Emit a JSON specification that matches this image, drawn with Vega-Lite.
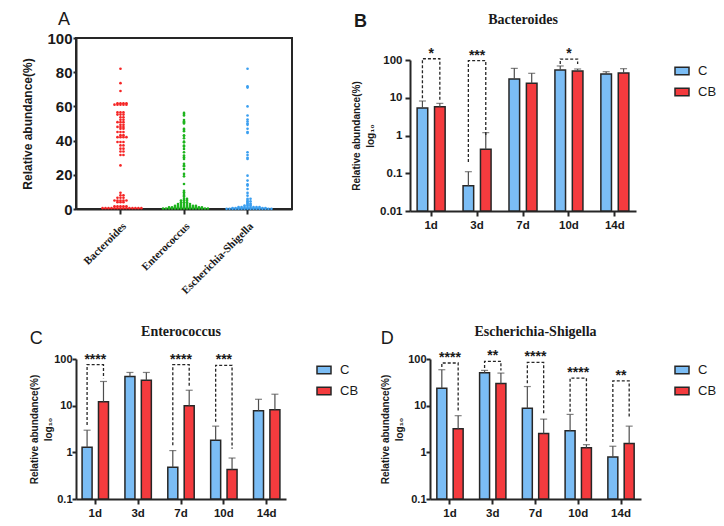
{
"$schema":"https://vega.github.io/schema/vega-lite/v6.json",
"background":"white",
"padding":{"left":20,"top":10,"right":0,"bottom":0},
"datasets":{
"scatter":[
{"g":"Bacteroides","v":82},{"g":"Bacteroides","v":73.6},{"g":"Bacteroides","v":69},
{"g":"Bacteroides","v":61.8},{"g":"Bacteroides","v":61.8},{"g":"Bacteroides","v":61.8},{"g":"Bacteroides","v":61.8},
{"g":"Bacteroides","v":61},{"g":"Bacteroides","v":61},{"g":"Bacteroides","v":61},{"g":"Bacteroides","v":61},{"g":"Bacteroides","v":61},
{"g":"Bacteroides","v":56.5},{"g":"Bacteroides","v":56.5},{"g":"Bacteroides","v":56.5},
{"g":"Bacteroides","v":55.2},{"g":"Bacteroides","v":55.2},{"g":"Bacteroides","v":55.2},
{"g":"Bacteroides","v":53.6},{"g":"Bacteroides","v":53.6},{"g":"Bacteroides","v":52.2},{"g":"Bacteroides","v":52.2},
{"g":"Bacteroides","v":50.8},{"g":"Bacteroides","v":50.8},{"g":"Bacteroides","v":50.8},
{"g":"Bacteroides","v":49.2},{"g":"Bacteroides","v":49.2},{"g":"Bacteroides","v":48},{"g":"Bacteroides","v":48},{"g":"Bacteroides","v":48},
{"g":"Bacteroides","v":46.9},{"g":"Bacteroides","v":46.9},{"g":"Bacteroides","v":45},{"g":"Bacteroides","v":45},{"g":"Bacteroides","v":45},
{"g":"Bacteroides","v":43.2},{"g":"Bacteroides","v":43.2},{"g":"Bacteroides","v":42},{"g":"Bacteroides","v":42},{"g":"Bacteroides","v":42},{"g":"Bacteroides","v":42},
{"g":"Bacteroides","v":39.2},{"g":"Bacteroides","v":39.2},{"g":"Bacteroides","v":39.2},{"g":"Bacteroides","v":37.2},{"g":"Bacteroides","v":37.2},
{"g":"Bacteroides","v":35.3},{"g":"Bacteroides","v":35.3},{"g":"Bacteroides","v":33.6},{"g":"Bacteroides","v":33.6},
{"g":"Bacteroides","v":31.6},{"g":"Bacteroides","v":31.6},{"g":"Bacteroides","v":25.5},
{"g":"Bacteroides","v":9.5},{"g":"Bacteroides","v":8},{"g":"Bacteroides","v":8},
{"g":"Bacteroides","v":6.6},{"g":"Bacteroides","v":6.6},{"g":"Bacteroides","v":6.6},
{"g":"Bacteroides","v":5},{"g":"Bacteroides","v":5},{"g":"Bacteroides","v":5},{"g":"Bacteroides","v":5},{"g":"Bacteroides","v":5},
{"g":"Bacteroides","v":4},{"g":"Bacteroides","v":4},{"g":"Bacteroides","v":4},
{"g":"Bacteroides","v":1.6},{"g":"Bacteroides","v":1.6},{"g":"Bacteroides","v":1.6},{"g":"Bacteroides","v":1.6},{"g":"Bacteroides","v":1.6},
{"g":"Bacteroides","v":0.5},{"g":"Bacteroides","v":0.5},{"g":"Bacteroides","v":0.5},{"g":"Bacteroides","v":0.5},{"g":"Bacteroides","v":0.5},{"g":"Bacteroides","v":0.5},{"g":"Bacteroides","v":0.5},
{"g":"Bacteroides","v":0.5},{"g":"Bacteroides","v":0.5},{"g":"Bacteroides","v":0.5},{"g":"Bacteroides","v":0.5},{"g":"Bacteroides","v":0.5},{"g":"Bacteroides","v":0.5},{"g":"Bacteroides","v":0.5},
{"g":"Enterococcus","v":56.2},{"g":"Enterococcus","v":55.5},{"g":"Enterococcus","v":54.7},{"g":"Enterococcus","v":52},{"g":"Enterococcus","v":51.2},
{"g":"Enterococcus","v":50.8},{"g":"Enterococcus","v":50},{"g":"Enterococcus","v":46.9},{"g":"Enterococcus","v":46.3},{"g":"Enterococcus","v":45.5},
{"g":"Enterococcus","v":43},{"g":"Enterococcus","v":42.9},{"g":"Enterococcus","v":41.4},{"g":"Enterococcus","v":39.4},{"g":"Enterococcus","v":39},
{"g":"Enterococcus","v":37.1},{"g":"Enterococcus","v":36.5},{"g":"Enterococcus","v":35.1},{"g":"Enterococcus","v":33.2},{"g":"Enterococcus","v":31.3},
{"g":"Enterococcus","v":30.3},{"g":"Enterococcus","v":29.3},{"g":"Enterococcus","v":26.4},{"g":"Enterococcus","v":25.5},{"g":"Enterococcus","v":25},
{"g":"Enterococcus","v":23.4},{"g":"Enterococcus","v":20.5},{"g":"Enterococcus","v":19.1},{"g":"Enterococcus","v":14.6},{"g":"Enterococcus","v":10.7},
{"g":"Enterococcus","v":9.8},{"g":"Enterococcus","v":8.8},{"g":"Enterococcus","v":7.8},{"g":"Enterococcus","v":7.2},
{"g":"Enterococcus","v":5.9},{"g":"Enterococcus","v":5.9},{"g":"Enterococcus","v":4.9},{"g":"Enterococcus","v":4.9},{"g":"Enterococcus","v":4.9},
{"g":"Enterococcus","v":3.9},{"g":"Enterococcus","v":3.9},{"g":"Enterococcus","v":3.9},
{"g":"Enterococcus","v":2.9},{"g":"Enterococcus","v":2.9},{"g":"Enterococcus","v":2.9},{"g":"Enterococcus","v":2.9},{"g":"Enterococcus","v":2.9},
{"g":"Enterococcus","v":1.8},{"g":"Enterococcus","v":1.8},{"g":"Enterococcus","v":1.8},{"g":"Enterococcus","v":1.8},{"g":"Enterococcus","v":1.8},{"g":"Enterococcus","v":1.8},{"g":"Enterococcus","v":1.8},{"g":"Enterococcus","v":1.8},
{"g":"Enterococcus","v":1},{"g":"Enterococcus","v":1},{"g":"Enterococcus","v":1},{"g":"Enterococcus","v":1},{"g":"Enterococcus","v":1},{"g":"Enterococcus","v":1},
{"g":"Enterococcus","v":1},{"g":"Enterococcus","v":1},{"g":"Enterococcus","v":1},{"g":"Enterococcus","v":1},{"g":"Enterococcus","v":1},{"g":"Enterococcus","v":1},
{"g":"Enterococcus","v":0.3},{"g":"Enterococcus","v":0.3},{"g":"Enterococcus","v":0.3},{"g":"Enterococcus","v":0.3},{"g":"Enterococcus","v":0.3},{"g":"Enterococcus","v":0.3},{"g":"Enterococcus","v":0.3},{"g":"Enterococcus","v":0.3},
{"g":"Enterococcus","v":0.3},{"g":"Enterococcus","v":0.3},{"g":"Enterococcus","v":0.3},{"g":"Enterococcus","v":0.3},{"g":"Enterococcus","v":0.3},{"g":"Enterococcus","v":0.3},{"g":"Enterococcus","v":0.3},{"g":"Enterococcus","v":0.3},
{"g":"Escherichia-Shigella","v":82},{"g":"Escherichia-Shigella","v":71.8},{"g":"Escherichia-Shigella","v":71},{"g":"Escherichia-Shigella","v":60},
{"g":"Escherichia-Shigella","v":54.7},{"g":"Escherichia-Shigella","v":52.3},{"g":"Escherichia-Shigella","v":51.2},{"g":"Escherichia-Shigella","v":50},
{"g":"Escherichia-Shigella","v":49.2},{"g":"Escherichia-Shigella","v":46.9},{"g":"Escherichia-Shigella","v":45},{"g":"Escherichia-Shigella","v":44.5},
{"g":"Escherichia-Shigella","v":33.2},{"g":"Escherichia-Shigella","v":31.6},{"g":"Escherichia-Shigella","v":30},{"g":"Escherichia-Shigella","v":29.3},
{"g":"Escherichia-Shigella","v":19.5},{"g":"Escherichia-Shigella","v":16.6},{"g":"Escherichia-Shigella","v":14.5},{"g":"Escherichia-Shigella","v":13.7},
{"g":"Escherichia-Shigella","v":11.7},{"g":"Escherichia-Shigella","v":9.4},{"g":"Escherichia-Shigella","v":7.8},{"g":"Escherichia-Shigella","v":6},{"g":"Escherichia-Shigella","v":6},
{"g":"Escherichia-Shigella","v":5.2},{"g":"Escherichia-Shigella","v":4.5},{"g":"Escherichia-Shigella","v":4.5},{"g":"Escherichia-Shigella","v":3.8},
{"g":"Escherichia-Shigella","v":3.2},{"g":"Escherichia-Shigella","v":3.2},{"g":"Escherichia-Shigella","v":2.5},{"g":"Escherichia-Shigella","v":2.5},
{"g":"Escherichia-Shigella","v":2},{"g":"Escherichia-Shigella","v":2},{"g":"Escherichia-Shigella","v":2},
{"g":"Escherichia-Shigella","v":1.2},{"g":"Escherichia-Shigella","v":1.2},{"g":"Escherichia-Shigella","v":1.2},{"g":"Escherichia-Shigella","v":1.2},
{"g":"Escherichia-Shigella","v":1.2},{"g":"Escherichia-Shigella","v":1.2},{"g":"Escherichia-Shigella","v":1.2},{"g":"Escherichia-Shigella","v":1.2},
{"g":"Escherichia-Shigella","v":0.6},{"g":"Escherichia-Shigella","v":0.6},{"g":"Escherichia-Shigella","v":0.6},{"g":"Escherichia-Shigella","v":0.6},{"g":"Escherichia-Shigella","v":0.6},{"g":"Escherichia-Shigella","v":0.6},
{"g":"Escherichia-Shigella","v":0.6},{"g":"Escherichia-Shigella","v":0.6},{"g":"Escherichia-Shigella","v":0.6},{"g":"Escherichia-Shigella","v":0.6},{"g":"Escherichia-Shigella","v":0.6},{"g":"Escherichia-Shigella","v":0.6},
{"g":"Escherichia-Shigella","v":0.1},{"g":"Escherichia-Shigella","v":0.1},{"g":"Escherichia-Shigella","v":0.1},{"g":"Escherichia-Shigella","v":0.1},{"g":"Escherichia-Shigella","v":0.1},{"g":"Escherichia-Shigella","v":0.1},{"g":"Escherichia-Shigella","v":0.1},{"g":"Escherichia-Shigella","v":0.1},
{"g":"Escherichia-Shigella","v":0.1},{"g":"Escherichia-Shigella","v":0.1},{"g":"Escherichia-Shigella","v":0.1},{"g":"Escherichia-Shigella","v":0.1},{"g":"Escherichia-Shigella","v":0.1},{"g":"Escherichia-Shigella","v":0.1},{"g":"Escherichia-Shigella","v":0.1},{"g":"Escherichia-Shigella","v":0.1}
],
"bars":[
{"p":"B","day":"1d","grp":"C","mean":5.35,"up":8.2},{"p":"B","day":"1d","grp":"CB","mean":5.8,"up":7.1},
{"p":"B","day":"3d","grp":"C","mean":0.047,"up":0.11},{"p":"B","day":"3d","grp":"CB","mean":0.43,"up":1.19},
{"p":"B","day":"7d","grp":"C","mean":31.4,"up":60},{"p":"B","day":"7d","grp":"CB","mean":24.2,"up":44.4},
{"p":"B","day":"10d","grp":"C","mean":54.3,"up":69.5},{"p":"B","day":"10d","grp":"CB","mean":51.1,"up":57.8},
{"p":"B","day":"14d","grp":"C","mean":42.6,"up":49},{"p":"B","day":"14d","grp":"CB","mean":45.3,"up":58.9},
{"p":"C","day":"1d","grp":"C","mean":1.28,"up":2.98},{"p":"C","day":"1d","grp":"CB","mean":12.2,"up":33},
{"p":"C","day":"3d","grp":"C","mean":42.3,"up":51.5},{"p":"C","day":"3d","grp":"CB","mean":35.2,"up":51.5},
{"p":"C","day":"7d","grp":"C","mean":0.48,"up":1.09},{"p":"C","day":"7d","grp":"CB","mean":10,"up":21.4},
{"p":"C","day":"10d","grp":"C","mean":1.82,"up":3.64},{"p":"C","day":"10d","grp":"CB","mean":0.43,"up":0.755},
{"p":"C","day":"14d","grp":"C","mean":7.8,"up":13.7},{"p":"C","day":"14d","grp":"CB","mean":8.2,"up":17.6},
{"p":"D","day":"1d","grp":"C","mean":23.7,"up":58.9},{"p":"D","day":"1d","grp":"CB","mean":3.19,"up":6.1},
{"p":"D","day":"3d","grp":"C","mean":50.7,"up":57},{"p":"D","day":"3d","grp":"CB","mean":29.8,"up":49.9},
{"p":"D","day":"7d","grp":"C","mean":8.76,"up":25.7},{"p":"D","day":"7d","grp":"CB","mean":2.53,"up":5.15},
{"p":"D","day":"10d","grp":"C","mean":2.89,"up":6.5},{"p":"D","day":"10d","grp":"CB","mean":1.26,"up":1.46},
{"p":"D","day":"14d","grp":"C","mean":0.79,"up":1.35},{"p":"D","day":"14d","grp":"CB","mean":1.54,"up":3.64}
],
"brk":[
{"p":"B","day":"1d","grp":"C","y":9.7,"k":1},{"p":"B","day":"1d","grp":"C","y":108,"k":2},{"p":"B","day":"1d","grp":"CB","y":108,"k":3},{"p":"B","day":"1d","grp":"CB","y":8.2,"k":4},
{"p":"B","day":"3d","grp":"C","y":0.2,"k":1},{"p":"B","day":"3d","grp":"C","y":96,"k":2},{"p":"B","day":"3d","grp":"CB","y":96,"k":3},{"p":"B","day":"3d","grp":"CB","y":0.93,"k":4},
{"p":"B","day":"10d","grp":"C","y":78,"k":1},{"p":"B","day":"10d","grp":"C","y":106,"k":2},{"p":"B","day":"10d","grp":"CB","y":106,"k":3},{"p":"B","day":"10d","grp":"CB","y":78,"k":4},
{"p":"C","day":"1d","grp":"C","y":3.83,"k":1},{"p":"C","day":"1d","grp":"C","y":75.5,"k":2},{"p":"C","day":"1d","grp":"CB","y":75.5,"k":3},{"p":"C","day":"1d","grp":"CB","y":38.9,"k":4},
{"p":"C","day":"7d","grp":"C","y":1.42,"k":1},{"p":"C","day":"7d","grp":"C","y":75.5,"k":2},{"p":"C","day":"7d","grp":"CB","y":75.5,"k":3},{"p":"C","day":"7d","grp":"CB","y":24.9,"k":4},
{"p":"C","day":"10d","grp":"C","y":4.5,"k":1},{"p":"C","day":"10d","grp":"C","y":73,"k":2},{"p":"C","day":"10d","grp":"CB","y":73,"k":3},{"p":"C","day":"10d","grp":"CB","y":1.2,"k":4},
{"p":"D","day":"1d","grp":"C","y":67,"k":1},{"p":"D","day":"1d","grp":"C","y":82,"k":2},{"p":"D","day":"1d","grp":"CB","y":82,"k":3},{"p":"D","day":"1d","grp":"CB","y":7.4,"k":4},
{"p":"D","day":"3d","grp":"C","y":64,"k":1},{"p":"D","day":"3d","grp":"C","y":89,"k":2},{"p":"D","day":"3d","grp":"CB","y":89,"k":3},{"p":"D","day":"3d","grp":"CB","y":57,"k":4},
{"p":"D","day":"7d","grp":"C","y":30.3,"k":1},{"p":"D","day":"7d","grp":"C","y":84.7,"k":2},{"p":"D","day":"7d","grp":"CB","y":84.7,"k":3},{"p":"D","day":"7d","grp":"CB","y":6.3,"k":4},
{"p":"D","day":"10d","grp":"C","y":7.4,"k":1},{"p":"D","day":"10d","grp":"C","y":38.9,"k":2},{"p":"D","day":"10d","grp":"CB","y":38.9,"k":3},{"p":"D","day":"10d","grp":"CB","y":1.67,"k":4},
{"p":"D","day":"14d","grp":"C","y":1.67,"k":1},{"p":"D","day":"14d","grp":"C","y":34,"k":2},{"p":"D","day":"14d","grp":"CB","y":34,"k":3},{"p":"D","day":"14d","grp":"CB","y":5.8,"k":4}
],
"stars":[
{"p":"B","day":"1d","top":108,"s":"*"},{"p":"B","day":"3d","top":96,"s":"***"},{"p":"B","day":"10d","top":106,"s":"*"},
{"p":"C","day":"1d","top":75.5,"s":"****"},{"p":"C","day":"7d","top":75.5,"s":"****"},{"p":"C","day":"10d","top":73,"s":"***"},
{"p":"D","day":"1d","top":82,"s":"****"},{"p":"D","day":"3d","top":89,"s":"**"},{"p":"D","day":"7d","top":84.7,"s":"****"},{"p":"D","day":"10d","top":38.9,"s":"****"},{"p":"D","day":"14d","top":34,"s":"**"}
]
},
"spacing":27,
"resolve":{"scale":{"x":"independent","y":"independent","xOffset":"independent","fill":"independent","color":"independent"},"legend":{"fill":"independent"}},
"vconcat":[
{"spacing":58,
"resolve":{"scale":{"x":"independent","y":"independent","xOffset":"independent","fill":"independent","color":"independent"},"legend":{"fill":"independent"}},
"hconcat":[
{
"width":216,"height":171,
"title":{"text":"A","anchor":"start","frame":"bounds","fontSize":18,"fontWeight":"normal","offset":2,"dx":36},
"view":{"stroke":"#262626","strokeWidth":2},
"data":{"name":"scatter"},
"transform":[{"window":[{"op":"row_number","as":"k"}],"groupby":["g","v"]}],
"mark":{"type":"circle","size":7,"opacity":1},
"encoding":{
"x":{"field":"g","type":"nominal","sort":["Bacteroides","Enterococcus","Escherichia-Shigella"],"scale":{"type":"band","paddingInner":0.2,"paddingOuter":0.3},"axis":{"title":null,"labelAngle":-45,"labelFont":"Liberation Serif","labelFontSize":11,"labelFontWeight":"bold","labelPadding":6}},
"xOffset":{"field":"k","type":"ordinal","scale":{"domain":[17,15,13,11,9,7,5,3,1,2,4,6,8,10,12,14,16]}},
"y":{"field":"v","type":"quantitative","scale":{"domain":[0,100]},"axis":{"values":[0,20,40,60,80,100],"title":"Relative abundance(%)","titleFontSize":12,"labelFontSize":15,"titlePadding":12,"tickSize":3,"labelPadding":1}},
"color":{"field":"g","type":"nominal","scale":{"domain":["Bacteroides","Enterococcus","Escherichia-Shigella"],"range":["#f52525","#1eb41e","#3a9ff0"]},"legend":null}
}
},
{
"bounds":"flush",
"spacing":10,
"resolve":{"scale":{"x":"independent","y":"independent","xOffset":"independent","fill":"independent"},"legend":{"fill":"independent"}},
"vconcat":[
{"width":226,"height":12,"data":{"values":[]},"mark":"point",
"title":{"text":"B","anchor":"start","frame":"group","fontSize":18,"fontWeight":"bold","dx":-56,"offset":7}},
{
"width":226,"height":151,
"title":{"text":"Bacteroides","font":"Liberation Serif","fontSize":14,"fontWeight":"bold","offset":20,"anchor":"middle","frame":"group"},
"layer":[
{"data":{"name":"bars"},"transform":[{"filter":"datum.p==='B'"}],"mark":{"type":"bar","stroke":"#262626","strokeWidth":1.5},
"encoding":{
"x":{"field":"day","type":"nominal","scale":{"type":"band","domain":["1d","3d","7d","10d","14d"],"paddingInner":0.39,"paddingOuter":0.155},"axis":{"title":null,"labelAngle":0}},
"xOffset":{"field":"grp","type":"nominal","scale":{"type":"band","domain":["C","CB"],"paddingInner":0.39,"paddingOuter":0}},
"y":{"field":"mean","type":"quantitative","scale":{"type":"log","domain":[0.01,100]},"axis":{"values":[0.01,0.1,1,10,100],"format":"~g","title":["Relative abundance(%)","log₁₀"],"titleFontSize":10,"titleLineHeight":14,"titlePadding":4}},
"y2":{"datum":0.01},
"fill":{"field":"grp","type":"nominal","scale":{"domain":["C","CB"],"range":["#7bbdf5","#f43b3e"]},"legend":{"title":null,"offset":35}}}},
{"data":{"name":"bars"},"transform":[{"filter":"datum.p==='B'"}],"mark":{"type":"rule","color":"#4d4d4d","strokeWidth":1.2},
"encoding":{
"x":{"field":"day","type":"nominal","scale":{"type":"band","domain":["1d","3d","7d","10d","14d"],"paddingInner":0.39,"paddingOuter":0.155}},
"xOffset":{"field":"grp","type":"nominal","scale":{"type":"band","domain":["C","CB"],"paddingInner":0.39,"paddingOuter":0}},
"y":{"field":"mean","type":"quantitative"},"y2":{"field":"up"}}},
{"data":{"name":"bars"},"transform":[{"filter":"datum.p==='B'"}],"mark":{"type":"tick","color":"#4d4d4d","thickness":1.2,"size":7},
"encoding":{
"x":{"field":"day","type":"nominal","scale":{"type":"band","domain":["1d","3d","7d","10d","14d"],"paddingInner":0.39,"paddingOuter":0.155}},
"xOffset":{"field":"grp","type":"nominal","scale":{"type":"band","domain":["C","CB"],"paddingInner":0.39,"paddingOuter":0}},
"y":{"field":"up","type":"quantitative"}}},
{"data":{"name":"brk"},"transform":[{"filter":"datum.p==='B'"}],"mark":{"type":"line","strokeDash":[3,2],"color":"#262626","strokeWidth":1.3},
"encoding":{
"x":{"field":"day","type":"nominal","scale":{"type":"band","domain":["1d","3d","7d","10d","14d"],"paddingInner":0.39,"paddingOuter":0.155}},
"xOffset":{"field":"grp","type":"nominal","scale":{"type":"band","domain":["C","CB"],"paddingInner":0.39,"paddingOuter":0}},
"y":{"field":"y","type":"quantitative"},"detail":{"field":"day"},"order":{"field":"k"}}},
{"data":{"name":"stars"},"transform":[{"filter":"datum.p==='B'"}],"mark":{"type":"text","fontWeight":"bold","fontSize":14,"dy":-1,"baseline":"alphabetic","color":"#1a1a1a"},
"encoding":{
"x":{"field":"day","type":"nominal","scale":{"type":"band","domain":["1d","3d","7d","10d","14d"],"paddingInner":0.39,"paddingOuter":0.155}},
"y":{"field":"top","type":"quantitative"},"text":{"field":"s"}}}
]
}
]
}
]},
{"spacing":18,
"resolve":{"scale":{"x":"independent","y":"independent","xOffset":"independent","fill":"independent"},"legend":{"fill":"independent"}},
"hconcat":[
{
"title":{"text":"C","anchor":"start","frame":"bounds","fontSize":18,"fontWeight":"normal","offset":-23},
"spacing":0,
"vconcat":[{
"width":210,"height":140,
"title":{"text":"Enterococcus","font":"Liberation Serif","fontSize":14,"fontWeight":"bold","offset":14,"anchor":"middle","frame":"group"},
"layer":[
{"data":{"name":"bars"},"transform":[{"filter":"datum.p==='C'"}],"mark":{"type":"bar","stroke":"#262626","strokeWidth":1.5},
"encoding":{
"x":{"field":"day","type":"nominal","scale":{"type":"band","domain":["1d","3d","7d","10d","14d"],"paddingInner":0.384,"paddingOuter":0.142},"axis":{"title":null,"labelAngle":0}},
"xOffset":{"field":"grp","type":"nominal","scale":{"type":"band","domain":["C","CB"],"paddingInner":0.39,"paddingOuter":0}},
"y":{"field":"mean","type":"quantitative","scale":{"type":"log","domain":[0.1,100]},"axis":{"values":[0.1,1,10,100],"format":"~g","title":["Relative abundance(%)","log₁₀"],"titleFontSize":10,"titleLineHeight":14,"titlePadding":0,"labelPadding":0,"tickSize":4,"labelFontSize":11}},
"y2":{"datum":0.1},
"fill":{"field":"grp","type":"nominal","scale":{"domain":["C","CB"],"range":["#7bbdf5","#f43b3e"]},"legend":{"title":null,"offset":27}}}},
{"data":{"name":"bars"},"transform":[{"filter":"datum.p==='C'"}],"mark":{"type":"rule","color":"#4d4d4d","strokeWidth":1.2},
"encoding":{
"x":{"field":"day","type":"nominal","scale":{"type":"band","domain":["1d","3d","7d","10d","14d"],"paddingInner":0.384,"paddingOuter":0.142}},
"xOffset":{"field":"grp","type":"nominal","scale":{"type":"band","domain":["C","CB"],"paddingInner":0.39,"paddingOuter":0}},
"y":{"field":"mean","type":"quantitative"},"y2":{"field":"up"}}},
{"data":{"name":"bars"},"transform":[{"filter":"datum.p==='C'"}],"mark":{"type":"tick","color":"#4d4d4d","thickness":1.2,"size":7},
"encoding":{
"x":{"field":"day","type":"nominal","scale":{"type":"band","domain":["1d","3d","7d","10d","14d"],"paddingInner":0.384,"paddingOuter":0.142}},
"xOffset":{"field":"grp","type":"nominal","scale":{"type":"band","domain":["C","CB"],"paddingInner":0.39,"paddingOuter":0}},
"y":{"field":"up","type":"quantitative"}}},
{"data":{"name":"brk"},"transform":[{"filter":"datum.p==='C'"}],"mark":{"type":"line","strokeDash":[3,2],"color":"#262626","strokeWidth":1.3},
"encoding":{
"x":{"field":"day","type":"nominal","scale":{"type":"band","domain":["1d","3d","7d","10d","14d"],"paddingInner":0.384,"paddingOuter":0.142}},
"xOffset":{"field":"grp","type":"nominal","scale":{"type":"band","domain":["C","CB"],"paddingInner":0.39,"paddingOuter":0}},
"y":{"field":"y","type":"quantitative"},"detail":{"field":"day"},"order":{"field":"k"}}},
{"data":{"name":"stars"},"transform":[{"filter":"datum.p==='C'"}],"mark":{"type":"text","fontWeight":"bold","fontSize":14,"dy":-1,"baseline":"alphabetic","color":"#1a1a1a"},
"encoding":{
"x":{"field":"day","type":"nominal","scale":{"type":"band","domain":["1d","3d","7d","10d","14d"],"paddingInner":0.384,"paddingOuter":0.142}},
"y":{"field":"top","type":"quantitative"},"text":{"field":"s"}}}
]
}]
},
{
"title":{"text":"D","anchor":"start","frame":"bounds","fontSize":18,"fontWeight":"normal","offset":-23},
"spacing":0,
"vconcat":[{
"width":211,"height":140,
"title":{"text":"Escherichia-Shigella","font":"Liberation Serif","fontSize":14,"fontWeight":"bold","offset":10,"anchor":"middle","frame":"group"},
"layer":[
{"data":{"name":"bars"},"transform":[{"filter":"datum.p==='D'"}],"mark":{"type":"bar","stroke":"#262626","strokeWidth":1.5},
"encoding":{
"x":{"field":"day","type":"nominal","scale":{"type":"band","domain":["1d","3d","7d","10d","14d"],"paddingInner":0.385,"paddingOuter":0.16},"axis":{"title":null,"labelAngle":0}},
"xOffset":{"field":"grp","type":"nominal","scale":{"type":"band","domain":["C","CB"],"paddingInner":0.39,"paddingOuter":0}},
"y":{"field":"mean","type":"quantitative","scale":{"type":"log","domain":[0.1,100]},"axis":{"values":[0.1,1,10,100],"format":"~g","title":["Relative abundance(%)","log₁₀"],"titleFontSize":10,"titleLineHeight":14,"titlePadding":3,"labelPadding":0,"tickSize":4,"labelFontSize":11}},
"y2":{"datum":0.1},
"fill":{"field":"grp","type":"nominal","scale":{"domain":["C","CB"],"range":["#7bbdf5","#f43b3e"]},"legend":{"title":null,"offset":30}}}},
{"data":{"name":"bars"},"transform":[{"filter":"datum.p==='D'"}],"mark":{"type":"rule","color":"#4d4d4d","strokeWidth":1.2},
"encoding":{
"x":{"field":"day","type":"nominal","scale":{"type":"band","domain":["1d","3d","7d","10d","14d"],"paddingInner":0.385,"paddingOuter":0.16}},
"xOffset":{"field":"grp","type":"nominal","scale":{"type":"band","domain":["C","CB"],"paddingInner":0.39,"paddingOuter":0}},
"y":{"field":"mean","type":"quantitative"},"y2":{"field":"up"}}},
{"data":{"name":"bars"},"transform":[{"filter":"datum.p==='D'"}],"mark":{"type":"tick","color":"#4d4d4d","thickness":1.2,"size":7},
"encoding":{
"x":{"field":"day","type":"nominal","scale":{"type":"band","domain":["1d","3d","7d","10d","14d"],"paddingInner":0.385,"paddingOuter":0.16}},
"xOffset":{"field":"grp","type":"nominal","scale":{"type":"band","domain":["C","CB"],"paddingInner":0.39,"paddingOuter":0}},
"y":{"field":"up","type":"quantitative"}}},
{"data":{"name":"brk"},"transform":[{"filter":"datum.p==='D'"}],"mark":{"type":"line","strokeDash":[3,2],"color":"#262626","strokeWidth":1.3},
"encoding":{
"x":{"field":"day","type":"nominal","scale":{"type":"band","domain":["1d","3d","7d","10d","14d"],"paddingInner":0.385,"paddingOuter":0.16}},
"xOffset":{"field":"grp","type":"nominal","scale":{"type":"band","domain":["C","CB"],"paddingInner":0.39,"paddingOuter":0}},
"y":{"field":"y","type":"quantitative"},"detail":{"field":"day"},"order":{"field":"k"}}},
{"data":{"name":"stars"},"transform":[{"filter":"datum.p==='D'"}],"mark":{"type":"text","fontWeight":"bold","fontSize":14,"dy":-1,"baseline":"alphabetic","color":"#1a1a1a"},
"encoding":{
"x":{"field":"day","type":"nominal","scale":{"type":"band","domain":["1d","3d","7d","10d","14d"],"paddingInner":0.385,"paddingOuter":0.16}},
"y":{"field":"top","type":"quantitative"},"text":{"field":"s"}}}
]
}]
}
]}
],
"config":{
"font":"Liberation Sans",
"view":{"stroke":null},
"axis":{"domainColor":"#262626","domainWidth":2,"tickColor":"#262626","tickWidth":2,"tickSize":5,"labelColor":"#1a1a1a","labelFontWeight":"bold","labelFontSize":11.5,"labelFont":"Liberation Sans","titleFont":"Liberation Sans","titleColor":"#1a1a1a","titleFontWeight":"bold","grid":false,"labelPadding":3},
"legend":{"orient":"right","padding":3,"symbolType":"M-1,-0.55H1V0.55H-1Z","symbolSize":196,"symbolStrokeColor":"#262626","symbolStrokeWidth":1.5,"labelFontSize":13,"labelFont":"Liberation Sans","labelColor":"#1a1a1a","rowPadding":6,"labelOffset":8},
"title":{"color":"#1a1a1a","font":"Liberation Sans"}
}
}
